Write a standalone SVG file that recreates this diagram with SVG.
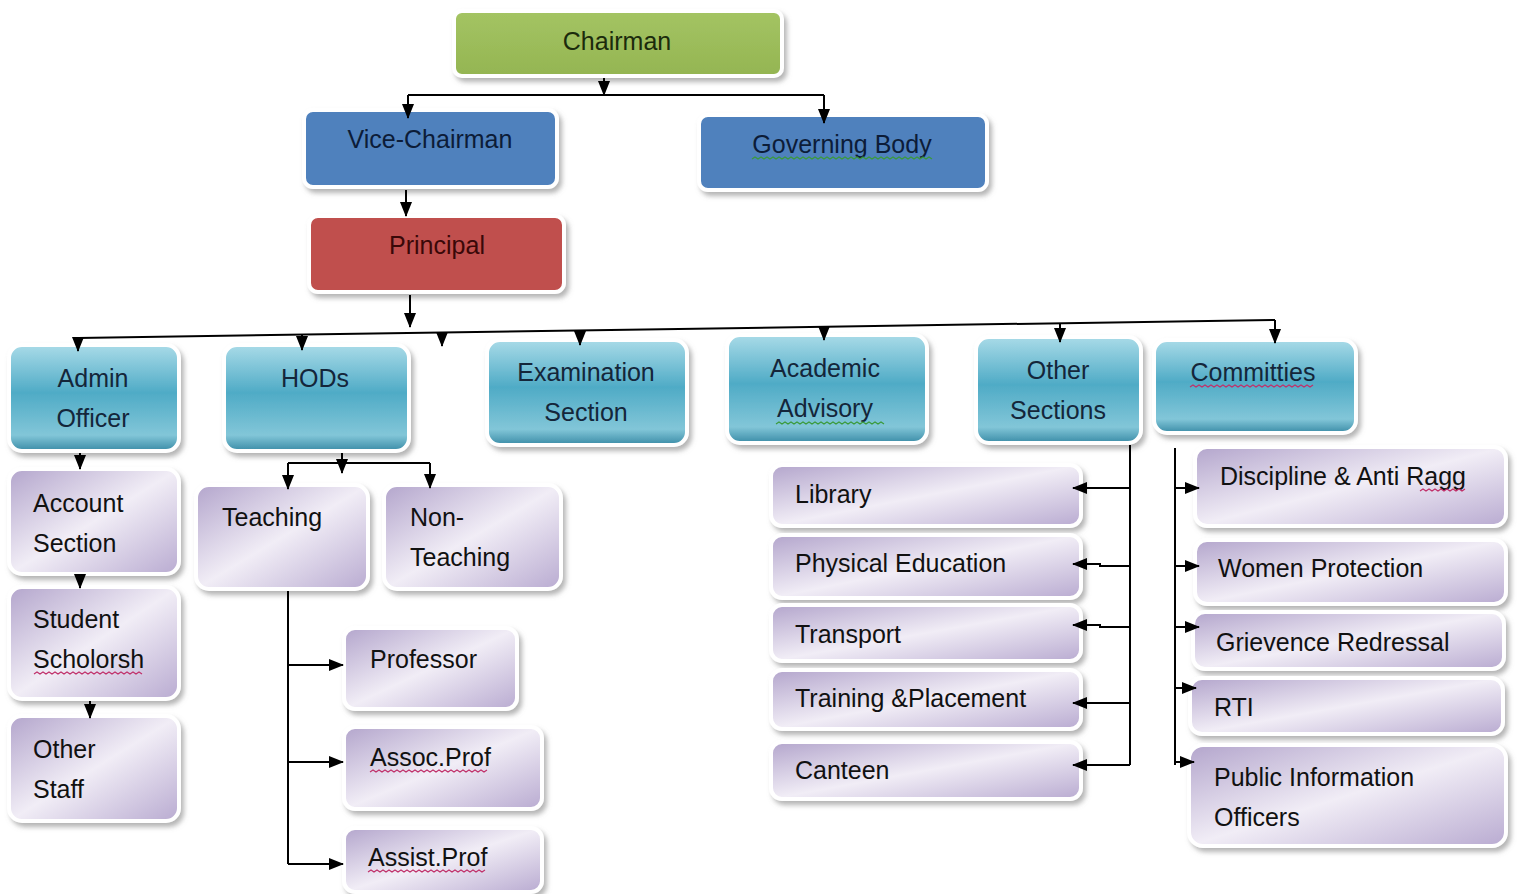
<svg xmlns="http://www.w3.org/2000/svg" width="1517" height="894" viewBox="0 0 1517 894">
<defs>
<linearGradient id="gTeal" x1="0" y1="0" x2="0" y2="1">
<stop offset="0" stop-color="#a9dbe8"/><stop offset="0.45" stop-color="#4fabc6"/><stop offset="0.85" stop-color="#82c6d8"/><stop offset="1" stop-color="#3a8ba6"/>
</linearGradient>
<linearGradient id="gPurple" x1="0" y1="0" x2="1" y2="1">
<stop offset="0" stop-color="#b3a5cc"/><stop offset="0.5" stop-color="#f1edf6"/><stop offset="1" stop-color="#b9abd1"/>
</linearGradient>
<linearGradient id="gGreen" x1="0" y1="0" x2="0" y2="1">
<stop offset="0" stop-color="#a4c463"/><stop offset="1" stop-color="#94b552"/>
</linearGradient>
<filter id="sh" x="-10%" y="-10%" width="125%" height="135%">
<feDropShadow dx="3" dy="4" stdDeviation="2.5" flood-color="#777" flood-opacity="0.55"/>
</filter>
<marker id="ah" markerUnits="userSpaceOnUse" markerWidth="16" markerHeight="16" viewBox="0 0 16 16" refX="14" refY="8" orient="auto">
<path d="M0,2 L15,8 L0,14 Z" fill="#000"/>
</marker>
</defs>
<style>
.b{stroke:#fff;stroke-width:4;filter:url(#sh)}
.teal{fill:url(#gTeal)}
.pur{fill:url(#gPurple)}
.t{font-family:"Liberation Sans",Arial,sans-serif;font-size:25px;fill:#111}
.tt{font-family:"Liberation Sans",Arial,sans-serif;font-size:25px;fill:#14263a;text-anchor:middle}
.c{fill:none;stroke:#000;stroke-width:2}
.ca{fill:none;stroke:#000;stroke-width:2;marker-end:url(#ah)}
.sq{fill:none;stroke-width:1.2}
</style>

<g id="chairman">
<rect class="b" x="454" y="11" width="328" height="65" rx="8" fill="url(#gGreen)"/>
<text class="tt" x="617" y="50" style="fill:#1b2b0c">Chairman</text>
</g>
<g id="vice-chairman">
<rect class="b" x="304" y="110" width="253" height="77" rx="9" fill="#4f81bd"/>
<text class="tt" x="430" y="148" style="fill:#0c1c38">Vice-Chairman</text>
</g>
<g id="governing-body">
<rect class="b" x="699" y="115" width="288" height="75" rx="9" fill="#4f81bd"/>
<text class="tt" x="842" y="153" style="fill:#0c1c38">Governing  Body</text>
<path class="sq" stroke="#3a9a3a" d="M752,159 l3,-2 l3,2 l3,-2 l3,2 l3,-2 l3,2 l3,-2 l3,2 l3,-2 l3,2 l3,-2 l3,2 l3,-2 l3,2 l3,-2 l3,2 l3,-2 l3,2 l3,-2 l3,2 l3,-2 l3,2 l3,-2 l3,2 l3,-2 l3,2 l3,-2 l3,2 l3,-2 l3,2 l3,-2 l3,2 l3,-2 l3,2 l3,-2 l3,2 l3,-2 l3,2 l3,-2 l3,2 l3,-2 l3,2 l3,-2 l3,2 l3,-2 l3,2 l3,-2 l3,2 l3,-2 l3,2 l3,-2 l3,2 l3,-2 l3,2 l3,-2 l3,2 l3,-2 l3,2 l3,-2 l3,2"/>
</g>
<g id="principal">
<rect class="b" x="309" y="216" width="255" height="76" rx="9" fill="#c0504d"/>
<text class="tt" x="437" y="254" style="fill:#3a0808">Principal</text>
</g>

<g id="admin-officer">
<rect class="b teal" x="9" y="345" width="170" height="106" rx="13"/>
<text class="tt" x="93" y="387">Admin</text>
<text class="tt" x="93" y="427">Officer</text>
</g>
<g id="hods">
<rect class="b teal" x="224" y="345" width="185" height="106" rx="13"/>
<text class="tt" x="315" y="387">HODs</text>
</g>
<g id="examination-section">
<rect class="b teal" x="487" y="340" width="200" height="105" rx="13"/>
<text class="tt" x="586" y="381">Examination</text>
<text class="tt" x="586" y="421">Section</text>
</g>
<g id="academic-advisory">
<rect class="b teal" x="727" y="335" width="200" height="108" rx="13"/>
<text class="tt" x="825" y="417" dy="0">Advisory</text>
<text class="tt" x="825" y="377">Academic</text>
<path class="sq" stroke="#3a9a3a" d="M776,424 l3,-2 l3,2 l3,-2 l3,2 l3,-2 l3,2 l3,-2 l3,2 l3,-2 l3,2 l3,-2 l3,2 l3,-2 l3,2 l3,-2 l3,2 l3,-2 l3,2 l3,-2 l3,2 l3,-2 l3,2 l3,-2 l3,2 l3,-2 l3,2 l3,-2 l3,2 l3,-2 l3,2 l3,-2 l3,2 l3,-2 l3,2 l3,-2 l3,2"/>
</g>
<g id="other-sections">
<rect class="b teal" x="976" y="337" width="165" height="106" rx="13"/>
<text class="tt" x="1058" y="379">Other</text>
<text class="tt" x="1058" y="419">Sections</text>
</g>
<g id="committies">
<rect class="b teal" x="1154" y="340" width="202" height="93" rx="13"/>
<text class="tt" x="1253" y="381">Committies</text>
<path class="sq" stroke="#c0306a" d="M1190,387 l3,-2 l3,2 l3,-2 l3,2 l3,-2 l3,2 l3,-2 l3,2 l3,-2 l3,2 l3,-2 l3,2 l3,-2 l3,2 l3,-2 l3,2 l3,-2 l3,2 l3,-2 l3,2 l3,-2 l3,2 l3,-2 l3,2 l3,-2 l3,2 l3,-2 l3,2 l3,-2 l3,2 l3,-2 l3,2 l3,-2 l3,2 l3,-2 l3,2 l3,-2 l3,2 l3,-2 l3,2 l3,-2"/>
</g>

<g id="account-section">
<rect class="b pur" x="9" y="469" width="170" height="105" rx="13"/>
<text class="t" x="33" y="512">Account</text>
<text class="t" x="33" y="552">Section</text>
</g>
<g id="student-scholorsh">
<rect class="b pur" x="9" y="587" width="170" height="112" rx="13"/>
<text class="t" x="33" y="628">Student</text>
<text class="t" x="33" y="668">Scholorsh</text>
<path class="sq" stroke="#c0306a" d="M34,674 l3,-2 l3,2 l3,-2 l3,2 l3,-2 l3,2 l3,-2 l3,2 l3,-2 l3,2 l3,-2 l3,2 l3,-2 l3,2 l3,-2 l3,2 l3,-2 l3,2 l3,-2 l3,2 l3,-2 l3,2 l3,-2 l3,2 l3,-2 l3,2 l3,-2 l3,2 l3,-2 l3,2 l3,-2 l3,2 l3,-2 l3,2 l3,-2 l3,2"/>
</g>
<g id="other-staff">
<rect class="b pur" x="9" y="716" width="170" height="105" rx="13"/>
<text class="t" x="33" y="758">Other</text>
<text class="t" x="33" y="798">Staff</text>
</g>

<g id="teaching">
<rect class="b pur" x="196" y="485" width="172" height="104" rx="13"/>
<text class="t" x="222" y="526">Teaching</text>
</g>
<g id="non-teaching">
<rect class="b pur" x="384" y="485" width="177" height="104" rx="13"/>
<text class="t" x="410" y="526">Non-</text>
<text class="t" x="410" y="566">Teaching</text>
</g>
<g id="professor">
<rect class="b pur" x="344" y="628" width="173" height="81" rx="11"/>
<text class="t" x="370" y="668">Professor</text>
</g>
<g id="assoc-prof">
<rect class="b pur" x="344" y="727" width="198" height="82" rx="11"/>
<text class="t" x="370" y="766">Assoc.Prof</text>
<path class="sq" stroke="#c0306a" d="M370,772 l3,-2 l3,2 l3,-2 l3,2 l3,-2 l3,2 l3,-2 l3,2 l3,-2 l3,2 l3,-2 l3,2 l3,-2 l3,2 l3,-2 l3,2 l3,-2 l3,2 l3,-2 l3,2 l3,-2 l3,2 l3,-2 l3,2 l3,-2 l3,2 l3,-2 l3,2 l3,-2 l3,2 l3,-2 l3,2 l3,-2 l3,2 l3,-2 l3,2 l3,-2 l3,2 l3,-2"/>
</g>
<g id="assist-prof">
<rect class="b pur" x="344" y="828" width="198" height="64" rx="11"/>
<text class="t" x="368" y="866">Assist.Prof</text>
<path class="sq" stroke="#c0306a" d="M368,872 l3,-2 l3,2 l3,-2 l3,2 l3,-2 l3,2 l3,-2 l3,2 l3,-2 l3,2 l3,-2 l3,2 l3,-2 l3,2 l3,-2 l3,2 l3,-2 l3,2 l3,-2 l3,2 l3,-2 l3,2 l3,-2 l3,2 l3,-2 l3,2 l3,-2 l3,2 l3,-2 l3,2 l3,-2 l3,2 l3,-2 l3,2 l3,-2 l3,2 l3,-2 l3,2 l3,-2"/>
</g>

<g id="library">
<rect class="b pur" x="771" y="465" width="310" height="61" rx="11"/>
<text class="t" x="795" y="503">Library</text>
</g>
<g id="physical-education">
<rect class="b pur" x="771" y="535" width="310" height="63" rx="11"/>
<text class="t" x="795" y="572">Physical Education</text>
</g>
<g id="transport">
<rect class="b pur" x="771" y="605" width="310" height="56" rx="11"/>
<text class="t" x="795" y="643">Transport</text>
</g>
<g id="training-placement">
<rect class="b pur" x="771" y="670" width="310" height="59" rx="11"/>
<text class="t" x="795" y="707">Training &amp;Placement</text>
</g>
<g id="canteen">
<rect class="b pur" x="771" y="742" width="310" height="57" rx="11"/>
<text class="t" x="795" y="779">Canteen</text>
</g>

<g id="discipline-anti-ragg">
<rect class="b pur" x="1195" y="447" width="311" height="79" rx="12"/>
<text class="t" x="1220" y="485">Discipline &amp; Anti Ragg</text>
<path class="sq" stroke="#c0306a" d="M1420,491 l3,-2 l3,2 l3,-2 l3,2 l3,-2 l3,2 l3,-2 l3,2 l3,-2 l3,2 l3,-2 l3,2 l3,-2 l3,2 l3,-2"/>
</g>
<g id="women-protection">
<rect class="b pur" x="1195" y="540" width="311" height="64" rx="12"/>
<text class="t" x="1218" y="577">Women Protection</text>
</g>
<g id="grievence-redressal">
<rect class="b pur" x="1193" y="612" width="311" height="57" rx="12"/>
<text class="t" x="1216" y="651">Grievence Redressal</text>
</g>
<g id="rti">
<rect class="b pur" x="1190" y="678" width="313" height="56" rx="12"/>
<text class="t" x="1214" y="716">RTI</text>
</g>
<g id="public-information-officers">
<rect class="b pur" x="1189" y="745" width="317" height="101" rx="14"/>
<text class="t" x="1214" y="786">Public Information</text>
<text class="t" x="1214" y="826">Officers</text>
</g>

<g id="connectors">
<path class="ca" d="M604,78 V95"/>
<path class="c" d="M408,95 H824"/>
<path class="ca" d="M408,95 V118"/>
<path class="ca" d="M824,95 V123"/>
<path class="ca" d="M406,190 V216"/>
<path class="ca" d="M410,295 V327"/>
<path class="c" d="M78,338 L1275,320"/>
<path class="ca" d="M78,338 V351"/>
<path class="ca" d="M302,334.6 V350"/>
<path class="ca" d="M442,332 V346"/>
<path class="ca" d="M580,330.5 V345"/>
<path class="ca" d="M824,326.8 V340"/>
<path class="ca" d="M1060,323.2 V342"/>
<path class="ca" d="M1275,320 V343"/>
<path class="ca" d="M80,453 V469"/>
<path class="ca" d="M80,576 V588"/>
<path class="ca" d="M90,701 V718"/>
<path class="ca" d="M342,453 V473"/>
<path class="c" d="M288,463 H430"/>
<path class="ca" d="M288,463 V489"/>
<path class="ca" d="M430,463 V488"/>
<path class="c" d="M288,591 V864"/>
<path class="ca" d="M288,665 H343"/>
<path class="ca" d="M288,762 H343"/>
<path class="ca" d="M288,864 H343"/>
<path class="c" d="M1130,445 V765"/>
<path class="ca" d="M1130,488 H1073"/>
<path class="ca" d="M1130,566 H1100 V564 H1073"/>
<path class="ca" d="M1130,627 H1100 V625 H1073"/>
<path class="ca" d="M1130,703 H1073"/>
<path class="ca" d="M1130,765 H1073"/>
<path class="c" d="M1175,448 V765"/>
<path class="ca" d="M1175,488 H1199"/>
<path class="ca" d="M1175,566 H1199"/>
<path class="ca" d="M1175,627 H1199"/>
<path class="ca" d="M1175,688 H1196"/>
<path class="ca" d="M1175,762 H1194"/>
</g>
</svg>
